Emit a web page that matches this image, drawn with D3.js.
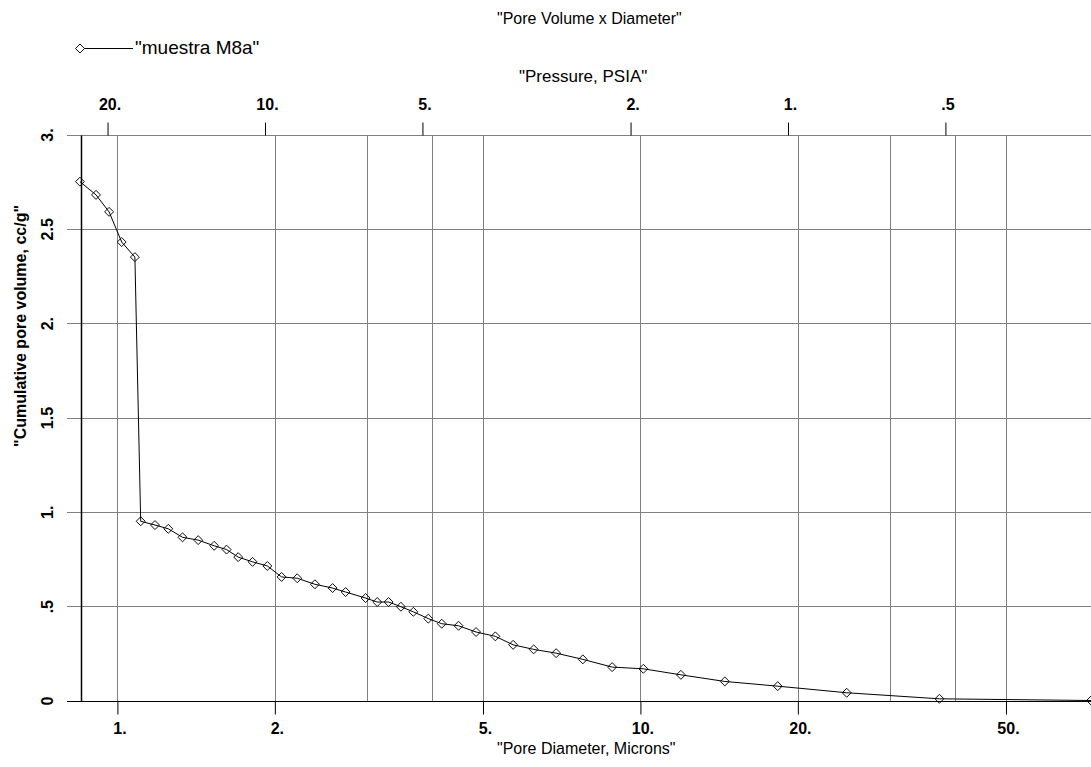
<!DOCTYPE html>
<html>
<head>
<meta charset="utf-8">
<script src="https://cdn.jsdelivr.net/npm/d3@7"></script>
<style>
  body { margin: 0; background: #fff; }
  svg { display: block; }
  text { font-family: "Liberation Sans", Arial, sans-serif; fill: #000; }
</style>
</head>
<body>
<svg id="chart" width="1091" height="767"></svg>
<script>
// Mercury intrusion sample: pore diameter (microns) vs cumulative pore volume (cc/g)
const diameters = [0.848, 0.910, 0.964, 1.019, 1.080, 1.108, 1.18, 1.251, 1.332, 1.427,
  1.531, 1.617, 1.702, 1.813, 1.935, 2.06, 2.207, 2.386, 2.579, 2.731,
  2.982, 3.139, 3.30, 3.484, 3.68, 3.93, 4.17, 4.49, 4.85, 5.28,
  5.71, 6.25, 6.90, 7.76, 8.83, 10.13, 11.95, 14.5, 18.3, 24.8,
  37.3, 72.7];
const volumes = [2.75, 2.68, 2.59, 2.43, 2.35, 0.95, 0.93, 0.91, 0.865, 0.85,
  0.82, 0.80, 0.76, 0.735, 0.713, 0.655, 0.648, 0.616, 0.596, 0.575,
  0.543, 0.522, 0.522, 0.497, 0.47, 0.434, 0.407, 0.396, 0.363, 0.34,
  0.295, 0.271, 0.251, 0.218, 0.177, 0.168, 0.136, 0.101, 0.076, 0.041,
  0.009, 0.0];

const sampleName = '"muestra M8a"';
const diameterTicks = [1, 2, 5, 10, 20, 50];
const diameterGrid = [1, 2, 3, 4, 5, 10, 20, 30, 40, 50];
const pressureTicks = [20, 10, 5, 2, 1, 0.5];
const volumeTicks = [0, 0.5, 1, 1.5, 2, 2.5, 3];
const pressureConstant = 19.15; // pressure = constant / diameter

const W = 1091, H = 767;
const plotLeft = 80.5, plotTop = 134.5, plotBottom = 700.5;
const decade = 523;
const xDomain = [0.85, 80];

const x = d3.scaleLog().domain(xDomain)
  .range([plotLeft, plotLeft + decade * Math.log10(xDomain[1] / xDomain[0])]);
const xP = d3.scaleLog().domain(xDomain.map(d => pressureConstant / d)).range(x.range());
const y = d3.scaleLinear().domain([0, 3]).range([plotBottom, plotTop]);

const px = v => Math.round(v) + 0.5;

// "1." / ".5" / "2.5" style number labels
const fmt = v => {
  if (v === 0) return "0";
  if (Number.isInteger(v)) return v + ".";
  return String(v).replace(/^0\./, ".");
};

const svg = d3.select("#chart");
const grid = "#808080";

// horizontal grid (also serve as left ticks)
svg.append("g").selectAll("line").data(volumeTicks.filter(v => v > 0)).join("line")
  .attr("x1", 67).attr("x2", W)
  .attr("y1", d => px(y(d))).attr("y2", d => px(y(d)))
  .attr("stroke", grid).attr("stroke-width", 1);

// vertical grid
svg.append("g").selectAll("line").data(diameterGrid).join("line")
  .attr("x1", d => px(x(d))).attr("x2", d => px(x(d)))
  .attr("y1", px(y(3))).attr("y2", px(y(0)))
  .attr("stroke", grid).attr("stroke-width", 1);

// bottom axis: pore diameter
const gx = svg.append("g").attr("transform", `translate(0,${px(y(0))})`)
  .call(d3.axisBottom(x).tickValues(diameterTicks).tickFormat(fmt).tickSize(13).tickSizeOuter(0));
gx.select(".domain").remove();
gx.selectAll(".tick line").attr("stroke", "#000");
gx.selectAll(".tick text").attr("y", 32).attr("dy", 0).attr("dx", 2)
  .style("font-size", "16px").style("font-weight", "bold").attr("fill", "#000");

// top axis: pressure
const gt = svg.append("g").attr("transform", `translate(0,${px(y(3))})`)
  .call(d3.axisTop(xP).tickValues(pressureTicks).tickFormat(fmt).tickSize(13).tickSizeOuter(0));
gt.select(".domain").remove();
gt.selectAll(".tick line").attr("stroke", "#000");
gt.selectAll(".tick text").attr("y", -26).attr("dy", 0).attr("dx", 2)
  .style("font-size", "16px").style("font-weight", "bold").attr("fill", "#000");

// left axis labels, rotated
const gy = svg.append("g").attr("transform", `translate(${plotLeft},0)`)
  .call(d3.axisLeft(y).tickValues(volumeTicks).tickFormat(fmt).tickSize(0));
gy.select(".domain").remove();
gy.selectAll(".tick text")
  .attr("transform", "rotate(-90)")
  .attr("x", 0).attr("y", -33).attr("dy", "0.36em")
  .attr("text-anchor", "middle")
  .style("font-size", "16px").style("font-weight", "bold").attr("fill", "#000");

// axis lines
svg.append("line").attr("x1", 67).attr("x2", W).attr("y1", px(y(0))).attr("y2", px(y(0)))
  .attr("stroke", "#000").attr("stroke-width", 1.2);
svg.append("line").attr("x1", px(plotLeft)).attr("x2", px(plotLeft)).attr("y1", px(y(3))).attr("y2", px(y(0)))
  .attr("stroke", "#000").attr("stroke-width", 1.5);

// data series
const points = diameters.map((d, i) => ({ d, v: volumes[i] }));
svg.append("path").datum(points)
  .attr("fill", "none").attr("stroke", "#000").attr("stroke-width", 1)
  .attr("d", d3.line().x(p => x(p.d)).y(p => y(p.v)));

const diamond = d3.symbol().type(d3.symbolSquare).size(40);
svg.append("g").selectAll("path").data(points).join("path")
  .attr("d", diamond)
  .attr("transform", p => `translate(${x(p.d)},${y(p.v)}) rotate(45)`)
  .attr("fill", "none").attr("stroke", "#000").attr("stroke-width", 0.9);

// legend
svg.append("line").attr("x1", 80).attr("x2", 133).attr("y1", 48.5).attr("y2", 48.5)
  .attr("stroke", "#000");
svg.append("path").attr("d", diamond).attr("transform", "translate(80,48.5) rotate(45)")
  .attr("fill", "#fff").attr("stroke", "#000").attr("stroke-width", 0.9);
svg.append("text").attr("x", 135).attr("y", 54).style("font-size", "19px").text(sampleName);

// titles
svg.append("text").attr("x", 497).attr("y", 24).style("font-size", "16px")
  .text('"Pore Volume x Diameter"');
svg.append("text").attr("x", 519).attr("y", 82).style("font-size", "17px")
  .text('"Pressure, PSIA"');
svg.append("text").attr("x", 497).attr("y", 754).style("font-size", "16px")
  .text('"Pore Diameter, Microns"');
svg.append("text").attr("transform", "translate(26,205) rotate(-90)")
  .attr("text-anchor", "end").style("font-size", "16px").style("font-weight", "bold")
  .text('"Cumulative pore volume, cc/g"');
</script>
</body>
</html>
